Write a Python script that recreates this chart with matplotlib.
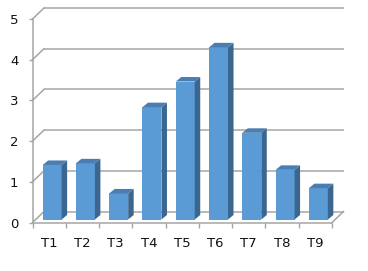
import matplotlib
matplotlib.use('Agg')
import matplotlib.pyplot as plt
from matplotlib.patches import Polygon
from matplotlib.transforms import ScaledTranslation, IdentityTransform

# 数据
categories = ['T1', 'T2', 'T3', 'T4', 'T5', 'T6', 'T7', 'T8', 'T9']
values = [1.34, 1.38, 0.64, 2.76, 3.39, 4.23, 2.13, 1.22, 0.77]
y_ticks = [0, 1, 2, 3, 4, 5]

# 颜色
face_color = '#5B9BD5'
side_color = '#3B6690'
top_color = '#4A7DB2'
grid_color = '#A5A5A5'

DPI = 100
fig = plt.figure(figsize=(3.68, 2.71), dpi=DPI)
ax = fig.add_axes([32.5 / 368, (271 - 222.5) / 271, 299.5 / 368, 203.5 / 271])
ax.set_xlim(-0.5, len(categories) - 0.5)
ax.set_ylim(0, 5)

# 3D 偏移（像素）
wall_dx, wall_dy = 11.5, 11.0   # 后墙
bar_dx, bar_dy = 3.0, 3.0       # 柱子正面位置
depth_dx, depth_dy = 5.5, 4.5   # 柱子深度
bar_width = 0.57

wall_tr = ax.transData + ScaledTranslation(wall_dx / DPI, wall_dy / DPI, fig.dpi_scale_trans)
bar_tr = ax.transData + ScaledTranslation(bar_dx / DPI, bar_dy / DPI, fig.dpi_scale_trans)

# 后墙网格线 + 左墙斜线
x_left, x_right = -0.5, len(categories) - 0.5
for v in y_ticks:
    ax.plot([x_left, x_right], [v, v], color=grid_color, lw=1.1, transform=wall_tr,
            clip_on=False, zorder=1, solid_capstyle='butt')
    px, py = ax.transData.transform((x_left, v))
    ax.plot([px, px + wall_dx], [py, py + wall_dy], color=grid_color, lw=1.1,
            transform=IdentityTransform(), clip_on=False, zorder=1)

# 地板右侧斜线
px, py = ax.transData.transform((x_right, 0))
ax.plot([px, px + wall_dx], [py, py + wall_dy], color=grid_color, lw=1.1,
        transform=IdentityTransform(), clip_on=False, zorder=1)

# 柱子
x = list(range(len(categories)))
ax.bar(x, values, width=bar_width, color=face_color, transform=bar_tr,
       clip_on=False, zorder=3, linewidth=0)
for i, h in enumerate(values):
    x0, y0 = ax.transData.transform((i - bar_width / 2, 0))
    x1, y1 = ax.transData.transform((i + bar_width / 2, h))
    x0 += bar_dx; x1 += bar_dx; y0 += bar_dy; y1 += bar_dy
    side = [(x1, y0), (x1 + depth_dx, y0 + depth_dy), (x1 + depth_dx, y1 + depth_dy), (x1, y1)]
    top = [(x0, y1), (x1, y1), (x1 + depth_dx, y1 + depth_dy), (x0 + depth_dx, y1 + depth_dy)]
    for verts, c in [(side, side_color), (top, top_color)]:
        ax.add_patch(Polygon(verts, closed=True, facecolor=c, edgecolor='none',
                             transform=IdentityTransform(), clip_on=False, zorder=3))

# 坐标轴
for s in ['top', 'right']:
    ax.spines[s].set_visible(False)
for s in ['left', 'bottom']:
    ax.spines[s].set_color(grid_color)
    ax.spines[s].set_linewidth(1.1)
    ax.spines[s].set_zorder(2)

ax.set_yticks(y_ticks)
ax.set_yticklabels([str(v) for v in y_ticks])
ax.tick_params(axis='y', direction='out', length=2.9, width=1.0, color=grid_color,
               pad=7.2, labelsize=9.5, labelcolor='#111111')

ax.set_xticks([i - 0.5 for i in range(len(categories) + 1)])
ax.set_xticklabels([])
ax.set_xticks(x, minor=True)
ax.set_xticklabels(categories, minor=True)
ax.tick_params(axis='x', which='major', direction='out', length=3.4, width=1.0, color=grid_color)
ax.tick_params(axis='x', which='minor', length=0, pad=10.4, labelsize=9.5, labelcolor='#111111')

ax.patch.set_visible(False)

fig.savefig('out.png', dpi=DPI)
